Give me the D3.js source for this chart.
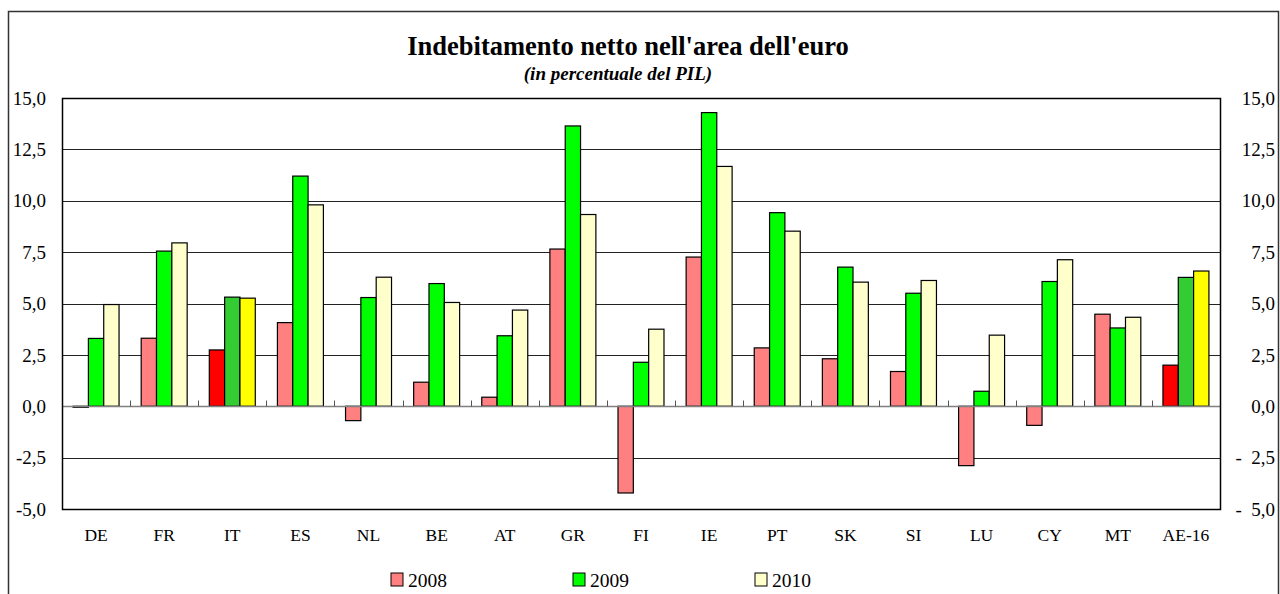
<!DOCTYPE html>
<html>
<head>
<meta charset="utf-8">
<script src="https://cdn.jsdelivr.net/npm/d3@7"></script>
<style>
    html, body { margin: 0; padding: 0; background: #fff; }
    #chart { width: 1280px; height: 594px; }
    text { font-family: "Liberation Serif", "Times New Roman", serif; fill: #000; }
</style>
</head>
<body>
<div id="chart"></div>
<script>

const categories = ['DE', 'FR', 'IT', 'ES', 'NL', 'BE', 'AT', 'GR', 'FI', 'IE', 'PT', 'SK', 'SI', 'LU', 'CY', 'MT', 'AE-16'];
const years = ['2008', '2009', '2010'];

const values2008 = [-0.05, 3.31, 2.74, 4.07, -0.70, 1.17, 0.44, 7.65, -4.22, 7.26, 2.84, 2.31, 1.69, -2.89, -0.93, 4.48, 2.00];
const values2009 = [3.30, 7.55, 5.31, 11.20, 5.29, 5.97, 3.43, 13.64, 2.14, 14.29, 9.42, 6.77, 5.50, 0.73, 6.07, 3.81, 6.27];
const values2010 = [4.95, 7.95, 5.26, 9.80, 6.28, 5.05, 4.68, 9.33, 3.75, 11.67, 8.52, 6.04, 6.12, 3.46, 7.13, 4.33, 6.58];

const tickValues = [-5, -2.5, 0, 2.5, 5, 7.5, 10, 12.5, 15];
const highlighted = ['IT', 'AE-16'];

const title = "Indebitamento netto nell'area dell'euro";
const subtitle = '(in percentuale del PIL)';


class GroupedBarChart {


    constructor(series) {

        this._series = series;
        this._colors = ['#ff8080', '#00ff00', '#ffffcc'];
        this._strongColors = ['#ff0000', '#33cc33', '#ffff00'];
        this._margin = {
            left: 62,
            top: 98,
            right: 60,
            bottom: 85
        };
        this._width = 1280;
        this._height = 594;
    }


    renderTo(selector) {

        this._svg = d3.select(selector)
            .append('svg')
            .attr('width', this._width)
            .attr('height', this._height);

        this._drawFrame();
        this._drawTitle();

        this._canvas = this._svg
            .append('g')
            .attr('transform', 'translate(' + [this._margin.left, this._margin.top] + ')');

        this._drawGrid();
        this._drawBars();
        this._drawAxes();
        this._drawLegend();

        return this;
    }


    _drawFrame() {

        this._svg.append('path')
            .attr('d', 'M8.5,594 V11.5 H1278.5 V594')
            .attr('fill', 'none')
            .attr('stroke', '#333')
            .attr('stroke-width', 1.5);
    }


    _drawTitle() {

        this._svg.append('text')
            .attr('x', 628)
            .attr('y', 55)
            .attr('text-anchor', 'middle')
            .style('font-size', '26.5px')
            .style('font-weight', 'bold')
            .text(title);

        this._svg.append('text')
            .attr('x', 618)
            .attr('y', 80)
            .attr('text-anchor', 'middle')
            .style('font-size', '19px')
            .style('font-weight', 'bold')
            .style('font-style', 'italic')
            .text(subtitle);
    }


    _drawGrid() {

        const yScale = this._getYScale();

        this._canvas.append('g')
            .attr('class', 'grid')
            .selectAll('line')
            .data(tickValues.filter(v => v !== 0))
            .join('line')
            .attr('x1', 0)
            .attr('x2', this._getInnerWidth())
            .attr('y1', d => Math.round(yScale(d)) + 0.5)
            .attr('y2', d => Math.round(yScale(d)) + 0.5)
            .attr('stroke', '#222')
            .attr('stroke-width', 1);
    }


    _drawBars() {

        const xScale = this._getXScale();
        const yScale = this._getYScale();
        /*
         * Bars of one group take about two thirds of the band.
         */
        const groupWidth = xScale.bandwidth() * 0.675;
        const innerScale = d3.scaleBand()
            .domain(years)
            .range([(xScale.bandwidth() - groupWidth) / 2, (xScale.bandwidth() + groupWidth) / 2]);

        const rows = [];
        categories.forEach(function(c, i) {
            years.forEach(function(y, j) {
                rows.push({ category: c, year: y, index: j, value: this._series[j][i] });
            }, this);
        }, this);

        const colors = this._colors;
        const strongColors = this._strongColors;

        this._canvas.append('g')
            .attr('class', 'bars')
            .selectAll('rect')
            .data(rows)
            .join('rect')
            .attr('x', d => xScale(d.category) + innerScale(d.year))
            .attr('width', innerScale.bandwidth())
            .attr('y', d => yScale(Math.max(0, d.value)))
            .attr('height', d => Math.abs(yScale(d.value) - yScale(0)))
            .attr('fill', d => highlighted.includes(d.category) ? strongColors[d.index] : colors[d.index])
            .attr('stroke', '#000')
            .attr('stroke-width', 1.2);
    }


    _drawAxes() {

        const xScale = this._getXScale();
        const yScale = this._getYScale();
        const innerWidth = this._getInnerWidth();
        const zero = Math.round(yScale(0)) + 0.5;
        /*
         * Zero line with small ticks between categories.
         */
        this._canvas.append('line')
            .attr('x1', 0)
            .attr('x2', innerWidth)
            .attr('y1', zero)
            .attr('y2', zero)
            .attr('stroke', '#808080')
            .attr('stroke-width', 1.5);

        this._canvas.append('g')
            .selectAll('line')
            .data(categories.slice(1))
            .join('line')
            .attr('x1', d => Math.round(xScale(d)) + 0.5)
            .attr('x2', d => Math.round(xScale(d)) + 0.5)
            .attr('y1', zero)
            .attr('y2', zero - 6)
            .attr('stroke', '#555')
            .attr('stroke-width', 1);

        this._canvas.append('g')
            .selectAll('text')
            .data(categories)
            .join('text')
            .attr('x', d => xScale(d) + xScale.bandwidth() / 2)
            .attr('y', this._getInnerHeight() + 32)
            .attr('text-anchor', 'middle')
            .style('font-size', '17.5px')
            .text(d => d);
        /*
         * Plot border.
         */
        this._canvas.append('rect')
            .attr('x', 0.5)
            .attr('y', 0.5)
            .attr('width', innerWidth)
            .attr('height', this._getInnerHeight())
            .attr('fill', 'none')
            .attr('stroke', '#000')
            .attr('stroke-width', 1.5);

        const fmt = v => d3.format('.1f')(Math.abs(v)).replace('.', ',');

        this._canvas.append('g')
            .selectAll('text')
            .data(tickValues)
            .join('text')
            .attr('x', -16)
            .attr('y', d => yScale(d))
            .attr('dy', '0.35em')
            .attr('text-anchor', 'end')
            .style('font-size', '19px')
            .text(d => (d < 0 ? '-' : '') + fmt(d));

        this._canvas.append('g')
            .selectAll('text')
            .data(tickValues)
            .join('text')
            .attr('x', innerWidth + 55)
            .attr('y', d => yScale(d))
            .attr('dy', '0.35em')
            .attr('text-anchor', 'end')
            .style('font-size', '19px')
            .style('white-space', 'pre')
            .text(d => (d < 0 ? '-  ' : '') + fmt(d));
    }


    _drawLegend() {

        const colors = this._colors;
        const legend = this._svg.append('g')
            .selectAll('g')
            .data(years)
            .join('g')
            .attr('transform', (d, i) => 'translate(' + [391 + i * 182, 573] + ')');

        legend.append('rect')
            .attr('width', 12)
            .attr('height', 13)
            .attr('fill', (d, i) => colors[i])
            .attr('stroke', '#000')
            .attr('stroke-width', 1);

        legend.append('text')
            .attr('x', 17)
            .attr('y', 14)
            .style('font-size', '19.5px')
            .text(d => d);
    }


    _getXScale() {

        return d3.scaleBand()
            .domain(categories)
            .range([0, this._getInnerWidth()]);
    }


    _getYScale() {

        return d3.scaleLinear()
            .domain([-5, 15])
            .range([this._getInnerHeight(), 0]);
    }


    _getInnerWidth() {

        return this._width - this._margin.left - this._margin.right;
    }


    _getInnerHeight() {

        return this._height - this._margin.top - this._margin.bottom;
    }
}


new GroupedBarChart([values2008, values2009, values2010]).renderTo('#chart');

</script>
</body>
</html>
